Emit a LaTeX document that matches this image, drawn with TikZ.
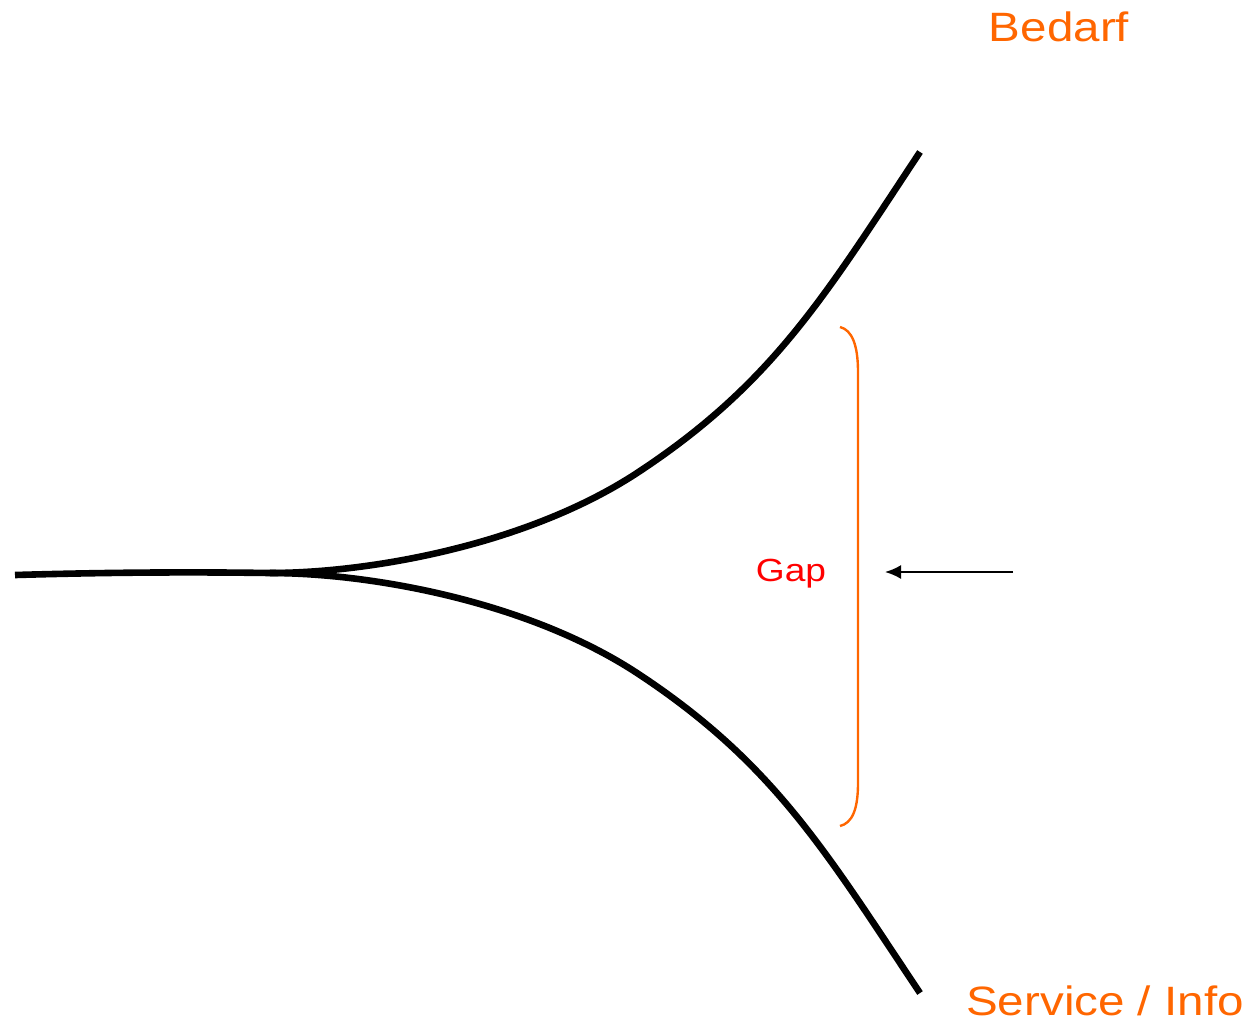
\documentclass[tikz,border=0pt]{standalone}
\usepackage{fontspec}
\setmainfont{Liberation Sans}
\usetikzlibrary{arrows.meta}
\definecolor{orng}{HTML}{FF6600}
\definecolor{gapred}{HTML}{FF0000}
\newcommand{\widen}[1]{\scalebox{1.16}[1]{#1}}
\begin{document}
\begin{tikzpicture}[x=0.5pt,y=-0.5pt,
  branch/.style={line width=3.3pt,line cap=butt,line join=round},
  bracketline/.style={draw=orng,line width=1.2pt},
  pointer/.style={line width=1pt,-{Latex[length=8pt,width=7pt]}},
  bigtext/.style={text=orng,font=\fontsize{20.5}{24}\selectfont,anchor=base,inner sep=0pt},
  gaptext/.style={text=gapred,font=\fontsize{16}{19}\selectfont,anchor=base,inner sep=0pt}]
\useasboundingbox (0,0) rectangle (1252,1024);
\coordinate (start) at (15,575);
\coordinate (fork) at (270,573);
\coordinate (upend) at (920,152);
\coordinate (lowend) at (920,993);
% stem
\draw[branch] (start) .. controls (120,572) and (200,572) .. (fork);
% upper branch
\draw[branch] (fork) .. controls (370,573) and (527,545) .. (637,473)
  .. controls (774,383) and (825.5,294.5) .. (upend);
% lower branch
\draw[branch] (fork) .. controls (370,573) and (527,601) .. (637,673)
  .. controls (774,763) and (825.5,851.5) .. (lowend);
% bracket
\draw[bracketline] (840,327) .. controls (852,330) and (858,345) .. (858,372) -- (858,783) .. controls (858,810) and (852,823) .. (840,826);
% arrow
\coordinate (arrtail) at (1013,572);
\coordinate (arrhead) at (885,572);
\draw[pointer] (arrtail) -- (arrhead);
% labels
\node[bigtext] (bedarf) at (1059,41) {\widen{Bedarf}};
\node[bigtext] (service) at (1105,1015) {\widen{Service / Info}};
\node[gaptext] (gap) at (791,581) {\widen{Gap}};
\end{tikzpicture}
\end{document}
